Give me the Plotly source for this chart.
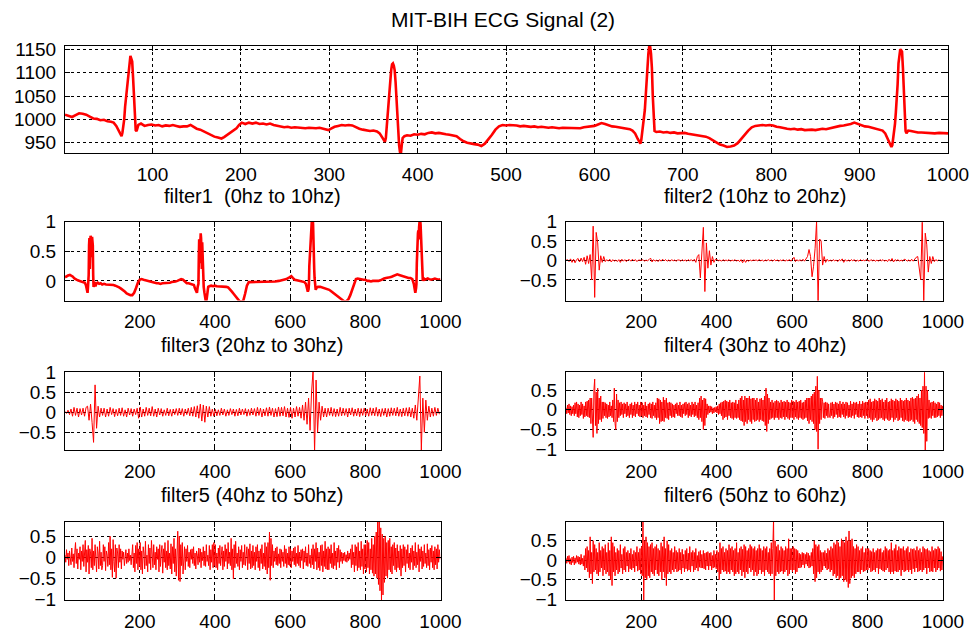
import plotly.graph_objects as go

# ---------------- raw ECG record (sample index, amplitude) ----------------
ecg_idx = [1,5,9,13,17,21,25,29,33,37,41,45,49,53,56,59,62,64,65,66,68,69,71,72,73,74,75,76,77,78,79,80,81,82,84,87,91,95,99,103,107,111,115,119,123,127,131,135,139,143,146,150,154,158,162,166,170,174,178,181,184,187,191,195,198,201,205,209,213,217,221,225,229,233,237,241,245,249,253,257,261,265,269,273,277,281,285,289,293,296,299,302,306,310,314,318,322,326,330,334,338,342,346,350,354,357,360,362,363,364,365,366,367,368,369,370,371,372,373,374,375,376,377,378,379,380,381,382,383,385,388,392,396,400,404,408,412,416,420,424,428,432,436,440,444,448,452,456,460,464,468,472,476,480,484,488,492,496,500,504,508,512,516,520,524,528,532,536,540,544,548,552,556,560,564,568,572,576,580,584,588,592,596,600,604,608,612,616,620,624,628,632,636,640,643,646,649,651,652,653,654,655,656,657,658,659,660,661,662,663,664,665,666,667,668,670,674,678,682,686,690,694,698,702,706,710,714,718,722,726,730,734,738,742,746,750,754,758,762,766,770,774,778,782,786,790,794,798,802,806,810,814,818,822,826,830,834,838,842,846,850,854,858,862,866,870,874,878,882,886,890,894,898,902,906,910,914,918,922,926,929,932,934,936,937,938,939,940,941,942,943,944,945,946,947,948,949,950,951,952,953,955,958,962,966,970,975,980,985,990,995,1000]
ecg_val = [1010,1008,1005,1009,1013,1012,1010,1006,1002,1001,998,999,996,995,993,986,975,966,964,972,1000,1027,1065,1091,1110,1128,1136,1130,1124,1090,1041,1000,977,975,988,991,986,988,989,987,988,985,987,986,988,986,984,985,985,988,985,980,978,974,970,967,963,961,959,962,966,970,975,981,988,993,990,993,991,993,990,991,989,991,988,986,985,983,984,982,983,982,981,981,982,981,981,982,980,978,977,980,984,986,988,987,988,987,983,980,978,976,975,976,974,970,962,955,952,960,985,1010,1040,1065,1085,1105,1118,1120,1115,1105,1080,1040,1000,970,945,930,926,945,960,964,966,965,968,967,969,968,971,972,970,971,969,968,967,966,964,958,953,950,948,947,946,943,948,957,967,978,985,988,987,988,988,987,985,986,985,984,985,983,984,983,982,983,982,981,982,982,981,982,982,981,983,984,986,986,989,992,990,987,985,984,983,981,981,979,976,970,958,949,948,956,970,985,1000,1020,1050,1085,1115,1140,1157,1156,1140,1110,1050,985,975,973,974,972,973,971,972,970,970,971,969,968,967,966,965,963,960,955,950,946,944,941,942,944,949,958,968,976,983,986,987,988,987,988,987,984,983,981,980,979,980,978,979,977,978,978,977,979,980,979,981,983,985,986,987,988,990,993,990,987,985,984,982,980,979,976,970,958,948,941,945,958,970,990,1015,1040,1075,1120,1141,1150,1148,1145,1110,1060,1010,975,970,976,975,973,972,972,971,971,970,971,971,970]

# ---------------- filter1: 0-10 Hz band ----------------
f1_idx = [1,5,9,14,18,22,26,30,35,40,45,50,54,57,59,61,62,63,64,65,66,67,68,69,70,71,72,73,74,75,76,77,78,80,82,84,88,92,96,100,105,110,115,120,125,130,135,140,145,150,155,160,165,170,175,180,185,190,195,200,205,210,215,220,225,230,235,240,245,250,255,260,265,270,275,280,285,290,295,300,305,310,315,320,325,330,335,340,344,347,350,352,354,356,357,358,359,360,361,362,363,364,365,366,367,368,370,372,374,376,378,380,382,385,390,395,400,405,410,415,420,425,430,435,440,445,450,455,460,465,470,475,480,485,490,495,500,510,520,530,540,550,560,570,580,590,598,603,607,612,618,625,632,638,642,645,647,649,650,651,652,653,654,655,656,657,658,659,660,661,662,663,664,665,666,668,670,674,680,686,692,698,704,710,716,722,728,734,740,745,750,755,760,765,770,775,780,785,790,795,800,805,810,815,820,825,830,835,840,845,850,855,860,865,870,875,880,885,890,895,900,905,910,915,920,925,929,931,933,935,936,937,938,939,940,941,942,943,944,945,946,947,948,949,950,951,952,953,955,958,962,966,970,975,980,985,990,995,1000]
f1_val = [0.06,0.08,0.09,0.10,0.09,0.07,0.04,0.02,0.01,0.0,-0.01,-0.02,-0.03,-0.08,-0.18,-0.20,-0.12,-0.05,0.10,0.60,0.72,0.20,0.74,0.76,0.72,0.40,0.68,0.74,0.70,0.60,0.10,-0.10,-0.08,-0.02,-0.09,-0.05,-0.03,-0.05,-0.04,-0.06,-0.05,-0.06,-0.06,-0.07,-0.06,-0.07,-0.08,-0.09,-0.11,-0.13,-0.15,-0.18,-0.21,-0.23,-0.24,-0.24,-0.20,-0.12,-0.03,0.02,0.03,0.02,0.01,0.0,-0.01,-0.02,-0.03,-0.03,-0.04,-0.04,-0.05,-0.04,-0.04,-0.03,-0.04,-0.03,-0.02,-0.02,-0.01,0.0,0.01,0.03,0.02,-0.02,-0.04,-0.04,-0.05,-0.05,-0.07,-0.13,-0.18,-0.20,-0.10,-0.05,0.40,0.70,0.30,0.75,0.78,0.80,0.72,0.50,0.20,0.65,0.40,0.05,-0.10,-0.20,-0.33,-0.36,-0.30,-0.18,-0.10,-0.09,-0.08,-0.09,-0.08,-0.09,-0.09,-0.09,-0.10,-0.10,-0.10,-0.11,-0.14,-0.18,-0.22,-0.26,-0.30,-0.34,-0.35,-0.34,-0.22,-0.08,-0.02,-0.02,-0.02,-0.02,-0.02,-0.02,-0.01,-0.01,-0.01,0.0,0.01,0.03,0.06,0.08,0.05,0.02,0.01,0.0,-0.01,-0.02,-0.05,-0.12,-0.18,-0.14,-0.05,0.25,0.40,0.30,0.42,0.60,0.90,1.05,1.05,1.05,1.05,0.95,0.45,0.42,0.20,0.05,-0.10,-0.15,-0.12,-0.10,-0.10,-0.11,-0.12,-0.13,-0.15,-0.18,-0.21,-0.24,-0.27,-0.30,-0.33,-0.35,-0.34,-0.31,-0.24,-0.15,-0.05,0.03,0.04,0.03,0.03,0.02,0.02,0.0,0.0,-0.01,0.0,0.0,-0.01,0.0,0.01,0.03,0.04,0.05,0.05,0.06,0.07,0.08,0.10,0.11,0.10,0.09,0.07,0.06,0.06,0.05,0.05,0.03,-0.05,-0.16,-0.20,-0.12,-0.05,0.30,0.75,0.50,0.80,0.85,0.70,0.90,1.0,1.05,1.02,0.95,0.80,0.55,0.30,0.35,0.15,0.0,0.05,0.02,0.03,0.04,0.03,0.02,0.03,0.04,0.03,0.02,0.03]

# ---------------- filters 2-3: one value every 4 samples, one row per 100 samples ----------------
f2_rows = [
    [0.0, 0.02, -0.03, 0.04, -0.05, 0.03, -0.06, 0.02, 0.05, -0.04, 0.06, -0.03, 0.08, -0.1, 0.12, -0.08, 0.15, -0.5, 0.88, -0.95, 0.72, 0.45, -0.25, 0.12, -0.05],
    [0.1, -0.03, 0.02, -0.02, 0.03, -0.04, 0.02, -0.02, 0.01, -0.03, 0.02, -0.05, 0.03, -0.02, 0.02, -0.03, 0.01, 0.02, -0.02, 0.03, -0.01, 0.02, -0.03, 0.01, 0.0],
    [0.0, 0.02, -0.02, 0.01, -0.01, 0.02, 0.06, -0.04, 0.02, -0.02, 0.01, -0.03, 0.02, -0.02, 0.03, -0.01, 0.02, -0.02, 0.01, -0.02, 0.02, -0.01, 0.01, -0.02, 0.01],
    [0.01, -0.02, 0.02, -0.01, 0.01, -0.02, 0.02, -0.01, 0.02, -0.02, 0.03, -0.05, 0.1, 0.15, -0.45, 0.3, 0.85, -0.8, 0.45, -0.2, 0.25, -0.12, 0.1, -0.05, 0.03],
    [0.02, -0.01, 0.01, -0.02, 0.02, -0.01, 0.01, -0.01, 0.02, -0.02, 0.01, -0.01, 0.02, -0.02, 0.01, -0.03, 0.02, -0.06, 0.02, -0.05, 0.01, -0.02, 0.01, -0.01, 0.01],
    [0.0, 0.01, -0.01, 0.02, -0.01, 0.01, -0.02, 0.01, -0.01, 0.02, -0.01, 0.01, -0.02, 0.02, -0.01, 0.01, -0.02, 0.01, -0.01, 0.02, -0.02, 0.01, -0.01, 0.02, -0.02],
    [0.03, 0.08, -0.03, 0.02, -0.02, 0.02, -0.02, 0.03, -0.02, 0.04, 0.1, 0.28, 0.1, -0.42, -0.15, 0.3, 1.0, -1.05, 0.55, 0.5, -0.12, 0.1, -0.05, 0.03, -0.02],
    [0.01, -0.02, 0.02, -0.01, 0.01, -0.03, 0.02, -0.01, 0.04, -0.05, 0.02, -0.02, 0.01, -0.02, 0.02, -0.01, 0.02, -0.03, 0.01, -0.02, 0.02, -0.01, 0.01, -0.01, 0.02],
    [0.01, -0.02, 0.02, -0.01, 0.01, -0.02, 0.01, -0.02, 0.02, -0.01, 0.02, -0.02, 0.01, -0.03, 0.03, -0.02, 0.05, -0.04, 0.02, -0.01, 0.02, -0.02, 0.01, -0.02, 0.03],
    [0.02, -0.02, 0.01, -0.02, 0.03, -0.02, 0.04, 0.08, 0.1, -0.15, -0.5, 0.98, -1.05, 0.7, 0.4, -0.3, 0.1, -0.08, 0.1, -0.03, 0.02, -0.01, 0.01, -0.01, 0.0],
]

f3_rows = [
    [0.02, -0.03, 0.05, -0.06, 0.08, -0.1, 0.12, -0.08, 0.1, -0.12, 0.09, -0.07, 0.1, -0.1, 0.12, 0.15, -0.2, 0.2, -0.25, -0.75, 0.68, -0.4, 0.15, -0.12, 0.1],
    [-0.08, 0.1, -0.12, 0.08, -0.1, 0.12, -0.06, 0.09, -0.11, 0.07, -0.09, 0.1, -0.08, 0.11, -0.1, 0.06, -0.12, 0.1, -0.07, 0.09, -0.1, 0.08, -0.06, 0.1, -0.15],
    [0.13, -0.12, 0.08, -0.1, 0.12, -0.08, 0.1, -0.09, 0.14, -0.1, 0.08, -0.12, 0.1, -0.07, 0.09, -0.1, 0.06, -0.08, 0.1, -0.09, 0.07, -0.1, 0.08, -0.06, 0.09],
    [-0.08, 0.1, -0.07, 0.09, -0.1, 0.08, -0.06, 0.1, -0.09, 0.12, -0.1, 0.14, -0.12, 0.16, -0.15, 0.2, -0.22, 0.18, -0.25, 0.15, -0.12, 0.14, -0.1, 0.08, -0.1],
    [0.07, -0.09, 0.06, -0.08, 0.1, -0.07, 0.08, -0.1, 0.06, -0.08, 0.09, -0.06, 0.08, -0.1, 0.07, -0.09, 0.1, -0.07, 0.08, -0.06, 0.09, -0.1, 0.07, -0.08, 0.1],
    [-0.07, 0.09, -0.1, 0.12, -0.08, 0.1, -0.12, 0.08, -0.09, 0.11, -0.1, 0.13, -0.08, 0.1, -0.12, 0.09, -0.11, 0.13, -0.1, 0.12, -0.09, 0.14, -0.12, 0.1, -0.13],
    [0.12, -0.15, 0.1, -0.12, 0.14, -0.1, 0.12, -0.15, 0.18, -0.2, 0.25, -0.3, 0.35, -0.45, 0.5, 1.05, -1.0, 0.8, -0.5, 0.25, -0.2, 0.15, -0.12, 0.1, -0.12],
    [0.1, -0.08, 0.12, -0.1, 0.09, -0.11, 0.08, -0.1, 0.12, -0.09, 0.1, -0.08, 0.09, -0.12, 0.1, -0.07, 0.11, -0.1, 0.08, -0.09, 0.1, -0.11, 0.09, -0.08, 0.1],
    [-0.09, 0.08, -0.1, 0.11, -0.08, 0.1, -0.09, 0.12, -0.1, 0.08, -0.11, 0.09, -0.08, 0.1, -0.12, 0.09, -0.1, 0.11, -0.08, 0.1, -0.09, 0.12, -0.1, 0.08, -0.11],
    [0.1, -0.09, 0.11, -0.1, 0.12, -0.12, 0.1, -0.15, 0.18, -0.2, 0.25, 0.9, -0.95, 0.35, -0.5, 0.3, -0.2, 0.15, -0.12, 0.1, -0.1, 0.12, -0.08, 0.1, -0.05],
]

# ---------------- filters 4-6: one value every 2 samples, one row per 100 samples ----------------
f4_rows = [
    [0.05,-0.1,0.12,-0.08,0.15,-0.12,0.1,-0.15,0.08,-0.1, 0.12,-0.15,0.18,-0.1,0.2,-0.18,0.15,-0.2,0.12,-0.15,
     0.2,-0.12,0.15,-0.22,0.1,-0.18,0.2,-0.15,0.22,-0.18, 0.25,-0.2,0.3,-0.35,0.3,-0.45,-0.7,0.5,0.78,-0.4,
     0.45,-0.6,0.55,-0.35,0.3,-0.25,0.35,-0.3,0.2,-0.22],
    [0.2,-0.15,0.18,-0.2,0.15,-0.22,0.12,-0.18,0.2,-0.15, 0.1,-0.2,0.25,-0.3,0.55,-0.35,-0.5,0.4,-0.3,0.25,
     -0.2,0.18,-0.15,0.2,-0.12,0.15,-0.2,0.18,-0.1,0.15, -0.18,0.2,-0.15,0.1,-0.2,0.15,-0.12,0.18,-0.2,0.12,
     -0.15,0.2,-0.18,0.15,-0.1,0.2,-0.15,0.12,-0.18,0.2],
    [-0.15,0.18,-0.2,0.12,-0.15,0.2,-0.18,0.1,-0.2,0.15, -0.12,0.18,-0.2,0.15,-0.22,0.2,-0.15,0.12,-0.2,0.18,
     -0.25,0.3,-0.2,0.28,-0.35,0.25,-0.3,0.2,-0.28,0.32, -0.3,0.25,-0.2,0.3,-0.22,0.18,-0.25,0.2,-0.15,0.18,
     -0.2,0.15,-0.18,0.12,-0.2,0.15,-0.1,0.18,-0.15,0.12],
    [-0.15,0.2,-0.18,0.12,-0.2,0.15,-0.1,0.18,-0.15,0.2, -0.12,0.15,-0.2,0.18,-0.15,0.12,-0.18,0.2,-0.12,0.15,
     -0.18,0.2,-0.15,0.12,-0.2,0.18,-0.25,0.3,-0.2,0.35, -0.3,0.25,-0.5,0.3,-0.4,0.28,-0.2,0.15,-0.12,0.1,
     -0.08,0.1,-0.06,0.08,-0.1,0.05,-0.08,0.06,-0.05,0.08],
    [-0.08,0.1,-0.12,0.15,-0.1,0.18,-0.15,0.2,-0.25,0.22, -0.2,0.25,-0.18,0.22,-0.25,0.2,-0.15,0.25,-0.2,0.18,
     -0.22,0.2,-0.25,0.18,-0.2,0.25,-0.22,0.15,-0.2,0.25, -0.25,0.3,-0.28,0.35,-0.3,0.25,-0.4,0.35,-0.3,0.3,
     -0.35,0.3,-0.25,0.35,-0.3,0.28,-0.35,0.3,-0.25,0.3],
    [-0.3,0.25,-0.28,0.3,-0.25,0.2,-0.3,0.28,-0.25,0.3, -0.28,0.25,-0.3,0.35,-0.4,0.55,-0.55,0.4,-0.35,0.3,
     -0.25,0.2,-0.22,0.25,-0.2,0.18,-0.25,0.22,-0.2,0.25, -0.2,0.22,-0.25,0.18,-0.2,0.25,-0.22,0.2,-0.18,0.22,
     -0.25,0.2,-0.18,0.25,-0.22,0.2,-0.25,0.18,-0.2,0.25],
    [-0.2,0.22,-0.25,0.2,-0.18,0.25,-0.22,0.2,-0.25,0.22, -0.2,0.25,-0.22,0.18,-0.25,0.2,-0.22,0.25,-0.2,0.3,
     -0.28,0.3,-0.35,0.3,-0.25,0.35,-0.3,0.4,-0.35,0.45, -0.5,0.6,-0.55,0.85,-1.0,0.5,-0.35,0.3,-0.25,0.3,
     0.22,-0.2,0.18,-0.22,0.2,-0.15,0.18,-0.2,0.15,-0.18],
    [-0.2,0.18,-0.15,0.2,-0.22,0.15,-0.18,0.2,-0.12,0.18, -0.2,0.15,-0.18,0.22,-0.2,0.15,-0.12,0.2,-0.18,0.15,
     -0.22,0.2,-0.15,0.18,-0.2,0.12,-0.18,0.22,-0.2,0.15, -0.15,0.2,-0.22,0.18,-0.12,0.2,-0.18,0.15,-0.2,0.22,
     -0.18,0.15,-0.2,0.22,-0.15,0.18,-0.22,0.2,-0.15,0.2],
    [-0.22,0.25,-0.2,0.28,-0.25,0.2,-0.3,0.22,-0.25,0.28, -0.2,0.25,-0.28,0.22,-0.25,0.3,-0.22,0.25,-0.2,0.28,
     -0.25,0.2,-0.28,0.25,-0.22,0.3,-0.25,0.2,-0.28,0.22, -0.25,0.28,-0.2,0.25,-0.3,0.22,-0.25,0.28,-0.2,0.25,
     -0.28,0.22,-0.25,0.3,-0.2,0.25,-0.28,0.22,-0.3,0.25],
    [-0.25,0.3,-0.28,0.25,-0.3,0.22,-0.28,0.3,-0.25,0.32, -0.3,0.28,-0.35,0.3,-0.25,0.35,-0.3,0.4,-0.35,0.3,
     -0.4,0.5,-0.45,0.6,-0.6,0.95,-1.05,0.6,-0.8,0.5, -0.22,0.25,-0.2,0.18,-0.22,0.2,-0.15,0.22,-0.2,0.18,
     -0.2,0.15,-0.18,0.2,-0.15,0.18,-0.2,0.12,-0.15,0.1],
]

f5_rows = [
    [0.05,-0.12,0.18,-0.05,0.1,-0.2,0.15,0.02,-0.18,0.22, -0.1,0.08,-0.25,0.12,0.35,-0.15,0.2,-0.28,0.1,-0.05,
     0.25,-0.3,0.15,-0.1,0.3,-0.22,0.05,0.4,-0.35,0.18, -0.12,0.28,-0.4,0.2,0.1,-0.25,0.45,-0.3,0.15,-0.2,
     0.3,-0.15,-0.35,0.25,0.1,-0.28,0.38,-0.2,0.12,-0.3],
    [-0.2,0.3,-0.1,0.25,-0.32,0.15,0.05,-0.22,0.35,-0.18, 0.5,-0.3,0.2,-0.48,0.42,-0.1,-0.35,0.3,-0.5,0.22,
     0.1,-0.25,0.3,-0.12,0.2,-0.28,0.15,-0.05,0.12,-0.2, 0.08,0.18,-0.15,0.1,-0.12,0.2,-0.08,0.05,-0.18,0.15,
     0.3,-0.25,0.1,-0.35,0.28,-0.15,0.35,-0.3,0.2,-0.22],
    [0.35,-0.3,0.15,-0.4,0.25,0.1,-0.28,0.38,-0.2,0.05, -0.35,0.3,-0.15,0.22,-0.3,0.4,-0.1,-0.25,0.3,-0.18,
     0.12,-0.3,0.25,-0.05,0.2,-0.35,0.3,-0.22,0.1,0.28, -0.38,0.2,-0.12,0.35,-0.25,0.15,-0.3,0.4,-0.2,0.1,
     -0.28,0.32,-0.4,0.25,-0.15,0.45,-0.35,0.2,-0.45,0.38],
    [0.62,-0.55,0.5,-0.58,0.3,-0.2,0.35,-0.4,0.15,0.25, -0.3,0.2,-0.1,0.28,-0.22,0.12,-0.25,0.18,-0.05,0.2,
     -0.15,0.25,-0.2,0.1,-0.28,0.15,0.05,-0.18,0.22,-0.12, 0.2,-0.25,0.12,-0.08,0.25,-0.2,0.15,-0.22,0.3,-0.1,
     0.05,-0.2,0.28,-0.3,0.18,-0.12,0.3,-0.25,0.35,-0.2],
    [0.3,-0.25,0.1,-0.3,0.22,-0.15,0.28,-0.2,0.05,0.25, -0.3,0.15,-0.22,0.3,-0.1,0.2,-0.28,0.35,-0.15,0.12,
     -0.2,0.45,-0.3,0.2,-0.52,0.3,-0.25,0.38,-0.15,0.1, -0.22,0.25,-0.3,0.18,-0.1,0.28,-0.25,0.12,-0.18,0.3,
     -0.2,0.1,0.25,-0.3,0.2,-0.15,0.32,-0.28,0.15,-0.25],
    [0.28,-0.2,0.12,-0.3,0.25,-0.1,0.3,-0.25,0.15,-0.32, 0.2,-0.15,0.3,-0.28,0.1,-0.22,0.35,-0.3,0.25,-0.4,
     0.35,-0.25,0.6,-0.55,0.45,-0.2,0.3,-0.25,0.15,-0.1, 0.22,-0.18,0.25,-0.2,0.08,-0.15,0.2,-0.25,0.18,-0.1,
     0.12,-0.22,0.28,-0.15,0.2,-0.25,0.1,-0.18,0.25,-0.2],
    [0.2,-0.25,0.15,-0.1,0.22,-0.18,0.25,-0.22,0.1,-0.15, 0.28,-0.2,0.12,-0.25,0.18,-0.08,0.2,-0.28,0.15,-0.12,
     0.25,-0.2,0.1,-0.22,0.3,-0.15,0.05,-0.25,0.2,-0.18, 0.3,-0.28,0.2,-0.1,0.35,-0.3,0.22,-0.25,0.12,-0.32,
     0.28,-0.2,0.3,-0.35,0.15,-0.22,0.38,-0.28,0.2,-0.3],
    [0.25,-0.3,0.2,-0.15,0.3,-0.25,0.1,-0.28,0.35,-0.2, 0.15,-0.3,0.22,-0.12,0.28,-0.25,0.18,-0.1,0.12,-0.15,
     0.1,-0.08,0.12,-0.1,0.06,-0.12,0.15,-0.08,0.1,-0.05, 0.2,-0.25,0.3,-0.18,0.12,-0.35,0.3,-0.2,0.25,-0.32,
     0.35,-0.25,0.15,-0.3,0.38,-0.22,0.2,-0.4,0.3,-0.28],
    [0.3,-0.35,0.4,-0.25,0.35,-0.4,0.2,-0.3,0.45,-0.38, 0.3,-0.45,0.5,-0.4,0.6,-0.5,0.9,-0.65,0.85,-0.8,
     0.7,-1.05,0.55,-0.9,0.45,-0.6,0.5,-0.45,0.35,-0.5, 0.4,-0.3,0.45,-0.35,0.25,-0.4,0.3,-0.2,0.35,-0.3,
     0.22,-0.35,0.3,-0.25,0.15,-0.3,0.28,-0.45,0.2,-0.25],
    [0.3,-0.2,0.25,-0.35,0.18,-0.15,0.3,-0.25,0.1,-0.3, 0.22,-0.12,0.28,-0.3,0.15,-0.2,0.35,-0.25,0.12,-0.18,
     0.3,-0.35,0.2,-0.1,0.25,-0.28,0.15,-0.22,0.3,-0.15, 0.1,-0.25,0.32,-0.2,0.18,-0.3,0.22,-0.12,0.28,-0.25,
     0.15,-0.3,0.25,-0.18,0.2,-0.28,0.3,-0.12,0.18,-0.05],
]

f6_rows = [
    [0.05,-0.08,0.1,-0.05,0.12,-0.1,0.04,-0.12,0.08,-0.06, 0.1,-0.12,0.06,-0.08,0.12,-0.05,0.1,-0.1,0.08,-0.12,
     0.15,-0.1,0.05,-0.15,0.12,-0.25,0.3,-0.2,0.35,-0.3, 0.25,-0.45,0.6,-0.35,0.2,-0.6,0.5,-0.3,0.4,-0.25,
     0.3,-0.35,0.2,-0.4,0.45,-0.3,0.25,-0.2,0.35,-0.4],
    [0.3,-0.25,0.4,-0.35,0.2,-0.3,0.45,-0.4,0.25,-0.5, 0.6,-0.65,0.45,-0.3,0.35,-0.4,0.2,-0.25,0.3,-0.35,
     0.25,-0.3,0.4,-0.2,0.15,-0.35,0.3,-0.25,0.35,-0.3, 0.2,-0.15,0.25,-0.3,0.18,-0.22,0.3,-0.25,0.15,-0.2,
     0.25,-0.3,0.2,-0.15,0.35,-0.28,0.2,-0.25,0.3,-0.35],
    [0.35,-0.4,1.05,-1.05,0.5,-0.45,0.6,-0.5,0.45,-0.4, 0.35,-0.45,0.4,-0.3,0.45,-0.35,0.3,-0.4,0.35,-0.25,
     0.4,-0.35,0.3,-0.4,0.25,-0.3,0.45,-0.5,0.35,-0.3, 0.6,-0.45,0.3,-0.65,0.5,-0.35,0.4,-0.3,0.25,-0.35,
     0.3,-0.25,0.2,-0.3,0.35,-0.22,0.25,-0.3,0.2,-0.28],
    [0.3,-0.25,0.2,-0.35,0.28,-0.2,0.15,-0.3,0.25,-0.22, 0.3,-0.28,0.18,-0.25,0.35,-0.3,0.2,-0.15,0.25,-0.3,
     0.2,-0.25,0.3,-0.2,0.12,-0.28,0.22,-0.18,0.25,-0.2, 0.15,-0.2,0.25,-0.22,0.18,-0.25,0.2,-0.15,0.22,-0.25,
     0.18,-0.15,0.2,-0.25,0.12,-0.2,0.25,-0.18,0.15,-0.22],
    [0.25,-0.3,0.2,-0.5,0.45,-0.35,0.3,-0.25,0.35,-0.3, 0.2,-0.28,0.3,-0.35,0.25,-0.3,0.4,-0.35,0.3,-0.25,
     0.35,-0.3,0.25,-0.4,0.3,-0.35,0.45,-0.3,0.2,-0.35, 0.3,-0.25,0.35,-0.4,0.28,-0.3,0.4,-0.45,0.35,-0.3,
     0.25,-0.35,0.3,-0.2,0.4,-0.3,0.35,-0.25,0.3,-0.4],
    [0.35,-0.3,0.25,-0.4,0.3,-0.35,0.4,-0.25,0.3,-0.35, 0.25,-0.3,0.35,-0.4,0.3,-0.25,0.35,-0.3,0.2,-0.35,
     0.3,-0.4,0.45,-0.35,0.3,1.05,-1.05,0.5,-0.4,0.35, -0.3,0.4,-0.35,0.25,-0.3,0.35,-0.28,0.3,-0.35,0.25,
     -0.3,0.35,-0.25,0.3,-0.4,0.55,-0.35,0.3,-0.25,0.3],
    [-0.3,0.35,-0.25,0.3,-0.35,0.28,-0.3,0.25,-0.2,0.18, -0.2,0.15,-0.18,0.2,-0.12,0.18,-0.2,0.15,-0.1,0.2,
     -0.15,0.18,-0.2,0.12,-0.18,0.2,-0.15,0.3,-0.35,0.5, -0.55,0.4,-0.45,0.35,-0.3,0.4,-0.35,0.25,-0.3,0.2,
     -0.25,0.2,-0.15,0.25,-0.2,0.18,-0.25,0.3,-0.22,0.25],
    [-0.3,0.35,-0.25,0.3,-0.4,0.45,-0.35,0.4,-0.45,0.5, -0.4,0.45,-0.5,0.35,-0.45,0.55,-0.4,0.5,-0.55,0.45,
     -0.5,0.6,-0.55,0.5,-0.7,0.75,-0.6,0.5,-0.45,0.55, -0.4,0.35,-0.45,0.3,-0.35,0.4,-0.3,0.35,-0.3,0.25,
     -0.35,0.3,-0.25,0.35,-0.3,0.2,-0.28,0.3,-0.25,0.3],
    [-0.25,0.3,-0.2,0.25,-0.3,0.22,-0.28,0.3,-0.25,0.2, -0.3,0.25,-0.2,0.3,-0.35,0.28,-0.22,0.3,-0.25,0.2,
     -0.28,0.25,-0.3,0.35,-0.25,0.3,-0.2,0.25,-0.3,0.28, -0.35,0.45,-0.3,0.25,-0.35,0.3,-0.28,0.4,-0.3,0.25,
     -0.3,0.35,-0.25,0.3,-0.4,0.3,-0.25,0.35,-0.3,0.25],
    [-0.28,0.3,-0.25,0.35,-0.3,0.2,-0.25,0.3,-0.35,0.28, -0.22,0.3,-0.3,0.25,-0.2,0.35,-0.3,0.25,-0.28,0.3,
     -0.25,0.2,-0.3,0.35,-0.25,0.3,-0.2,0.28,-0.35,0.3, -0.2,0.25,-0.3,0.22,-0.28,0.35,-0.3,0.25,-0.2,0.3,
     -0.3,0.28,-0.25,0.35,-0.2,0.3,-0.28,0.22,-0.25,0.1],
]

main_title = "MIT-BIH ECG Signal (2)"
panel_titles = ["filter1  (0hz to 10hz)", "filter2 (10hz to 20hz)", "filter3 (20hz to 30hz)",
                "filter4 (30hz to 40hz)", "filter5 (40hz to 50hz)", "filter6 (50hz to 60hz)"]

top_xticks = [100, 200, 300, 400, 500, 600, 700, 800, 900, 1000]
top_yticks = [950, 1000, 1050, 1100, 1150]
band_xticks = [200, 400, 600, 800, 1000]


def unroll(rows, step):
    """Flatten rows of 100 samples each into (sample index, value) lists."""
    xs, ys = [], []
    for k, row in enumerate(rows):
        for j, v in enumerate(row):
            xs.append(1 + 100 * k + step * j)
            ys.append(v)
    return xs, ys


f2_idx, f2_val = unroll(f2_rows, 4)
f3_idx, f3_val = unroll(f3_rows, 4)
f4_idx, f4_val = unroll(f4_rows, 2)
f5_idx, f5_val = unroll(f5_rows, 2)
f6_idx, f6_val = unroll(f6_rows, 2)

# ---------------- layout geometry (figure is 973 x 633 px) ----------------
W, H = 973, 633
def xdom(a, b):
    return [a / W, b / W]
def ydom(top, bottom):
    return [1 - bottom / H, 1 - top / H]

FONT = "Liberation Sans, Arial, sans-serif"
RED = "#ff0000"

panels = [
    dict(xd=xdom(65, 948), yd=ydom(46, 153), yr=[928, 1157], yt=top_yticks, xt=top_xticks,
         x=ecg_idx, y=ecg_val, w=2.6),
    dict(xd=xdom(65, 440.5), yd=ydom(221.5, 300.5), yr=[-0.33, 1.0], yt=[0, 0.5, 1], xt=band_xticks,
         x=f1_idx, y=f1_val, w=2.6),
    dict(xd=xdom(566, 943), yd=ydom(221.5, 300.5), yr=[-1.03, 1.0], yt=[-0.5, 0, 0.5, 1], xt=band_xticks,
         x=f2_idx, y=f2_val, w=1),
    dict(xd=xdom(65, 440.5), yd=ydom(372, 450), yr=[-0.94, 1.0], yt=[-0.5, 0, 0.5, 1], xt=band_xticks,
         x=f3_idx, y=f3_val, w=1),
    dict(xd=xdom(566, 943), yd=ydom(372, 450), yr=[-1.02, 0.96], yt=[-1, -0.5, 0, 0.5], xt=band_xticks,
         x=f4_idx, y=f4_val, w=1),
    dict(xd=xdom(65, 440.5), yd=ydom(522, 600), yr=[-1.02, 0.84], yt=[-1, -0.5, 0, 0.5], xt=band_xticks,
         x=f5_idx, y=f5_val, w=1),
    dict(xd=xdom(566, 943), yd=ydom(522, 600), yr=[-1.02, 0.98], yt=[-1, -0.5, 0, 0.5], xt=band_xticks,
         x=f6_idx, y=f6_val, w=1),
]

axis_style = dict(
    showline=True, linecolor="black", linewidth=1, mirror="ticks",
    ticks="inside", ticklen=5, tickcolor="black", tickwidth=1,
    showgrid=True, gridcolor="black", gridwidth=1, griddash="3px,3px",
    zeroline=False, tickfont=dict(family=FONT, size=19, color="black"),
    ticklabelstandoff=4, automargin=False,
)

fig = go.Figure()
layout = {}
for i, p in enumerate(panels):
    n = "" if i == 0 else str(i + 1)
    fig.add_trace(go.Scatter(
        x=p["x"], y=p["y"], mode="lines",
        line=dict(color=RED, width=p["w"]),
        xaxis="x" + n, yaxis="y" + n, showlegend=False, hoverinfo="skip",
    ))
    layout["xaxis" + n] = dict(axis_style, domain=p["xd"], range=[1, 1000], anchor="y" + n,
                               tickmode="array", tickvals=p["xt"])
    layout["yaxis" + n] = dict(axis_style, domain=p["yd"], range=p["yr"], anchor="x" + n,
                               tickmode="array", tickvals=p["yt"])

fig.update_layout(**layout)

# figure title and panel captions, centred on their positions
def label(text, cx, cy, size):
    return dict(text=text, x=cx / W, y=1 - cy / H, xref="paper", yref="paper",
                xanchor="center", yanchor="middle", showarrow=False,
                font=dict(family=FONT, size=size, color="black"))

annotations = [label(main_title, 503, 19, 21)]
caption_pos = [(252.5, 196), (754.5, 196), (252.5, 345), (754.5, 345), (252.5, 495), (754.5, 495)]
for txt, (cx, cy) in zip(panel_titles, caption_pos):
    annotations.append(label(txt, cx, cy, 20))

fig.update_layout(
    width=W, height=H,
    margin=dict(l=0, r=0, t=0, b=0, autoexpand=False),
    paper_bgcolor="white", plot_bgcolor="white",
    annotations=annotations,
)

fig.write_html("out.html")
